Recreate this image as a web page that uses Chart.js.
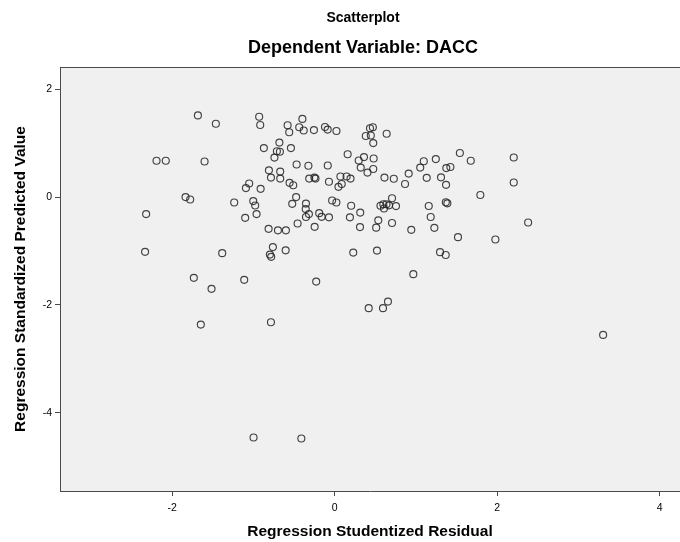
<!DOCTYPE html>
<html>
<head>
<meta charset="utf-8">
<script src="https://cdn.jsdelivr.net/npm/chart.js@4"></script>
<style>
  html, body { margin: 0; padding: 0; background: #ffffff; }
  canvas { display: block; }
</style>
</head>
<body>
<canvas id="scatter" width="680" height="542"></canvas>
<script>
// Regression Studentized Residual (x) and Regression Standardized Predicted Value (y)
const residuals = [
  -1.683, -1.462, -2.192, -2.078, -1.601, -1.052, -1.092, -1.835, -1.778, -1.236,
  -1.002, -0.978, -2.320, -1.101, -0.961, -2.333, -1.384, -1.733, -1.113, -1.515,
  -1.647, -0.911, -0.929, -0.916, -0.579, -0.559, -0.397, -0.436, -0.381, -0.255,
  -0.119, -0.086, 0.022, 0.435, 0.470, 0.445, 0.383, 0.475, 0.640, -0.871,
  -0.680, -0.538, -0.711, -0.674, -0.741, 0.160, 0.296, 0.361, 0.321, 0.404,
  0.480, 0.475, -0.468, -0.323, -0.085, -0.809, -0.670, -0.784, -0.670, -0.555,
  -0.510, -0.313, -0.249, -0.236, -0.070, 0.071, 0.147, 0.195, 0.047, 0.087,
  0.613, 0.728, 0.911, 0.866, 1.097, 1.053, 1.245, 1.133, 1.309, 1.374,
  1.424, 1.371, 1.541, 1.675, 2.204, 2.204, 1.793, -0.474, -0.522, -0.353,
  -0.356, -0.317, -0.353, -0.456, -0.246, -0.190, -0.160, -0.070, -0.031, 0.021,
  0.203, 0.188, 0.315, 0.312, 0.537, 0.511, 0.564, 0.599, 0.638, 0.706,
  0.755, 0.607, 0.669, 0.706, 0.943, 1.158, 1.182, 1.227, 1.368, 1.387,
  -0.813, -0.698, -0.600, -0.760, -0.797, -0.781, -0.603, 0.229, 0.521, 1.297,
  1.367, -0.227, 0.968, 0.419, 0.595, 0.656, -0.784, 2.381, 1.518, 1.978,
  3.304, -0.998, -0.410
];
const predicted = [
  1.512, 1.358, 0.672, 0.672, 0.659, 0.250, 0.165, -0.002, -0.046, -0.102,
  -0.076, -0.158, -0.317, -0.386, -0.317, -1.017, -1.041, -1.499, -1.536, -1.703,
  -2.365, 0.152, 1.488, 1.334, 1.330, 1.200, 1.447, 1.293, 1.232, 1.241,
  1.297, 1.250, 1.224, 1.275, 1.293, 1.141, 1.130, 1.000, 1.173, 0.907,
  1.009, 0.907, 0.848, 0.839, 0.731, 0.792, 0.677, 0.740, 0.545, 0.453,
  0.714, 0.519, 0.603, 0.579, 0.584, 0.495, 0.471, 0.360, 0.341, 0.263,
  0.217, 0.341, 0.360, 0.341, 0.282, 0.380, 0.380, 0.341, 0.189, 0.241,
  0.360, 0.338, 0.434, 0.241, 0.662, 0.545, 0.703, 0.356, 0.365, 0.536,
  0.557, 0.226, 0.816, 0.672, 0.733, 0.269, 0.037, -0.002, -0.126, -0.122,
  -0.224, -0.317, -0.371, -0.492, -0.553, -0.299, -0.367, -0.377, -0.065, -0.102,
  -0.163, -0.377, -0.289, -0.557, -0.432, -0.568, -0.163, -0.135, -0.135, -0.024,
  -0.169, -0.213, -0.154, -0.482, -0.609, -0.167, -0.371, -0.571, -0.098, -0.117,
  -0.590, -0.618, -0.618, -0.929, -1.067, -1.109, -0.989, -1.030, -0.993, -1.022,
  -1.076, -1.568, -1.430, -2.061, -2.061, -1.939, -2.321, -0.473, -0.744, -0.788,
  -2.557, -4.458, -4.477
];
const xTicks = [-2, 0, 2, 4];
const yTicks = [2, 0, -2, -4];

const points = residuals.map((x, i) => ({ x: x, y: predicted[i] }));

const frameColor = '#4a4a4a';

const plotBackground = {
  id: 'plotBackground',
  beforeDraw(chart) {
    const { ctx, chartArea: a } = chart;
    ctx.save();
    ctx.fillStyle = '#f0f0f0';
    ctx.fillRect(a.left, a.top, a.right - a.left, a.bottom - a.top);
    ctx.restore();
  },
  afterDraw(chart) {
    const { ctx, chartArea: a } = chart;
    ctx.save();
    // top edge of the frame
    ctx.strokeStyle = frameColor;
    ctx.lineWidth = 1;
    ctx.beginPath();
    ctx.moveTo(a.left, a.top + 0.5);
    ctx.lineTo(a.right, a.top + 0.5);
    ctx.stroke();
    // titles
    ctx.fillStyle = '#000';
    ctx.textAlign = 'center';
    ctx.textBaseline = 'middle';
    ctx.font = 'bold 14px "Liberation Sans", Arial, sans-serif';
    ctx.fillText('Scatterplot', 363, 18);
    ctx.font = 'bold 18px "Liberation Sans", Arial, sans-serif';
    ctx.fillText('Dependent Variable: DACC', 363, 48);
    ctx.restore();
  }
};

Chart.defaults.font.family = '"Liberation Sans", Arial, sans-serif';
Chart.defaults.color = '#000';

new Chart(document.getElementById('scatter').getContext('2d'), {
  type: 'scatter',
  data: {
    datasets: [{
      data: points,
      pointRadius: 3.5,
      pointBorderWidth: 1.15,
      pointBorderColor: 'rgba(35,35,35,0.85)',
      pointBackgroundColor: 'rgba(0,0,0,0)',
      pointHoverRadius: 3.5
    }]
  },
  options: {
    responsive: false,
    animation: false,
    events: [],
    layout: { autoPadding: false, padding: { top: 67, right: 0, left: 0, bottom: 0 } },
    plugins: {
      legend: { display: false },
      tooltip: { enabled: false }
    },
    scales: {
      x: {
        type: 'linear',
        min: -3.38,
        max: 4.25,
        afterFit: s => { s.height = 51; },
        afterBuildTicks: s => { s.ticks = xTicks.map(v => ({ value: v })); },
        grid: {
          drawOnChartArea: false,
          drawTicks: true,
          tickLength: 5,
          color: frameColor
        },
        border: { display: true, color: frameColor, width: 1 },
        ticks: {
          font: { size: 10.5 },
          padding: 6,
          maxRotation: 0,
          callback: v => String(v)
        },
        title: {
          display: true,
          text: 'Regression Studentized Residual',
          font: { size: 15.5, weight: 'bold' },
          padding: { top: 0, bottom: 1 }
        }
      },
      y: {
        type: 'linear',
        min: -5.45,
        max: 2.41,
        afterFit: s => { s.width = 60; },
        afterBuildTicks: s => { s.ticks = yTicks.map(v => ({ value: v })); },
        grid: {
          drawOnChartArea: false,
          drawTicks: true,
          tickLength: 5,
          color: frameColor
        },
        border: { display: true, color: frameColor, width: 1 },
        ticks: {
          font: { size: 10.5 },
          padding: 3,
          callback: v => String(v)
        },
        title: {
          display: true,
          text: 'Regression Standardized Predicted Value',
          font: { size: 15.5, weight: 'bold' },
          padding: { top: 11, bottom: 0 }
        }
      }
    }
  },
  plugins: [plotBackground]
});
</script>
</body>
</html>
